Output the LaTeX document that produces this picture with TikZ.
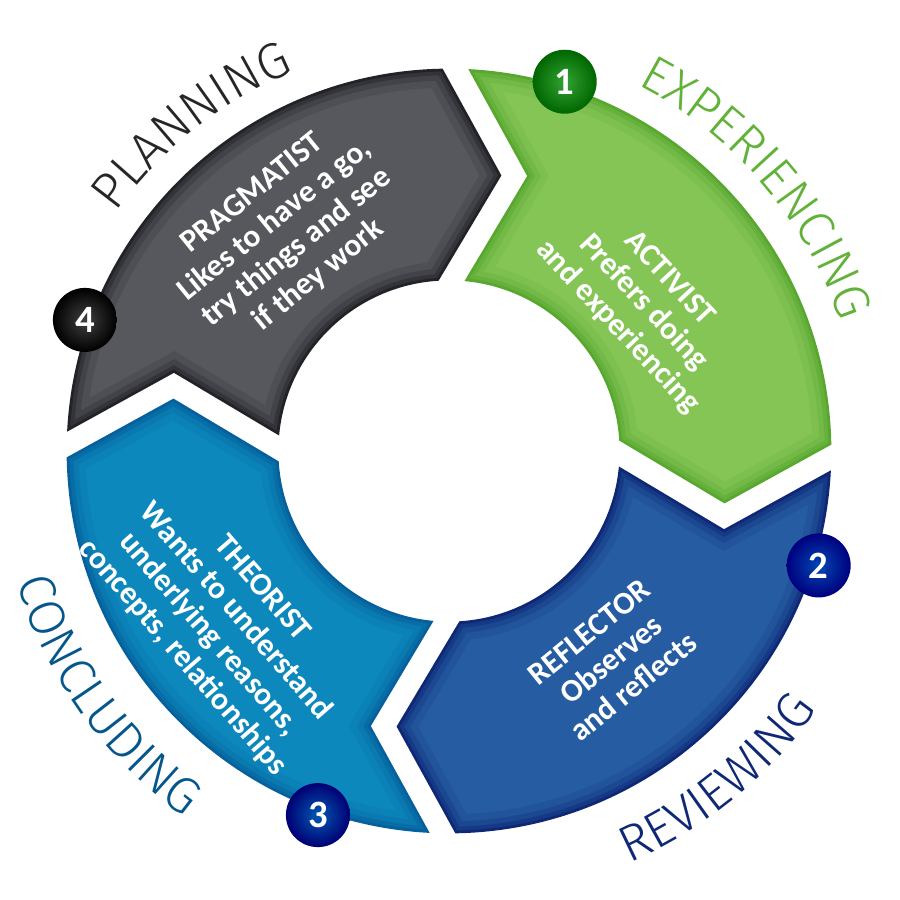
\documentclass[tikz,border=0pt]{standalone}
\usepackage{fontspec}
\setmainfont{Carlito}
\newfontfamily\ringfont{Fira Sans Light}
\usetikzlibrary{decorations.text}

\definecolor{actGreen}{RGB}{132,197,86}
\definecolor{actEdge}{RGB}{88,168,48}
\definecolor{actInk}{RGB}{98,178,58}
\definecolor{reflBlue}{RGB}{37,92,162}
\definecolor{reflEdge}{RGB}{14,40,118}
\definecolor{theoTeal}{RGB}{12,136,188}
\definecolor{theoEdge}{RGB}{6,96,156}
\definecolor{pragGray}{RGB}{86,88,93}
\definecolor{pragEdge}{RGB}{34,34,40}

%% one quarter of the ring, tail at the top, head at the right
\newcommand{\cyclesegment}{(87.82:3.81) arc[start angle=87.82, end angle=2.18, radius=3.81]
  -- (2.765,-0.455) -- (4.84:1.72) arc[start angle=4.84, end angle=85.16, radius=1.72]
  -- (0.745,2.765) -- cycle}

\begin{document}
\begin{tikzpicture}
[innerText/.style={text=white, align=center, font=\bfseries\fontsize{9}{10}\selectfont},%
  stageBall/.style={circle, minimum size=0.64cm, inner sep=0pt, text=white,%
    font=\bfseries\fontsize{11}{11}\selectfont},%
  ringLabel/.style={decorate, decoration={text along path, text align=center,%
    text={|\ringfont\fontsize{14.5}{16}\selectfont|#1}}}]
\useasboundingbox (-4.49,-4.49) rectangle (4.51,4.51);
%% the four arrows of the cycle
\foreach \k/\segfill/\segedge in {0/actGreen/actEdge, 1/reflBlue/reflEdge,
  2/theoTeal/theoEdge, 3/pragGray/pragEdge}
{
  \begin{scope}[rotate=-1.1-90*\k]
    \fill[\segfill] \cyclesegment;
    \begin{scope}
      \clip \cyclesegment;
      \draw[\segedge, line width=10pt, opacity=0.15] \cyclesegment;
      \draw[\segedge, line width=6pt, opacity=0.25] \cyclesegment;
      \draw[\segedge, line width=3pt, opacity=0.45] \cyclesegment;
    \end{scope}
    \draw[\segedge, line width=0.8pt] \cyclesegment;
  \end{scope}
}
%% texts inside the arrows
\node[innerText, rotate=-47] (act) at (37.3:2.44) {ACTIVIST\\Prefers doing\\and experiencing};
\node[innerText, rotate=39] (refl) at (-52.1:2.64) {REFLECTOR\\Observes\\and reflects};
\node[innerText, rotate=-49] (theo) at (217.2:2.85) {THEORIST\\Wants to understand\\underlying reasons,\\concepts, relationships};
\node[innerText, rotate=39] (prag) at (127:2.71) {PRAGMATIST\\Likes to have a go,\\try things and see\\if they work};
%% numbered balls
\foreach \nodename/\ang/\inner/\outer in {
  n1/72.6/green!55!black!80/green!40!black, n2/-17.2/blue!60!cyan!70!black/blue!50!black,
  n3/250.2/blue!50!cyan!70!black/blue!45!black, n4/160.2/black!75/black}
{
  \node[stageBall, inner color=\inner, outer color=\outer] (\nodename) at (\ang:3.87) {};
}
\node[stageBall] at (n1) {1};
\node[stageBall] at (n2) {2};
\node[stageBall] at (n3) {3};
\node[stageBall] at (n4) {4};
%% stage names round the ring
\path[ringLabel=PLANNING, decoration={text color=black!85}]
  (158.3:4.1) arc[start angle=158.3, end angle=98.3, radius=4.1];
\path[ringLabel=EXPERIENCING, decoration={text color=actInk}]
  (75.5:4.12) arc[start angle=75.5, end angle=5.5, radius=4.12];
\path[ringLabel=REVIEWING, decoration={text color=reflEdge}]
  (-85.7:4.5) arc[start angle=-85.7, end angle=-15.7, radius=4.5];
\path[ringLabel=CONCLUDING, decoration={text color=theoEdge!90!black}]
  (180.5:4.52) arc[start angle=180.5, end angle=250.5, radius=4.52];
\end{tikzpicture}
\end{document}
